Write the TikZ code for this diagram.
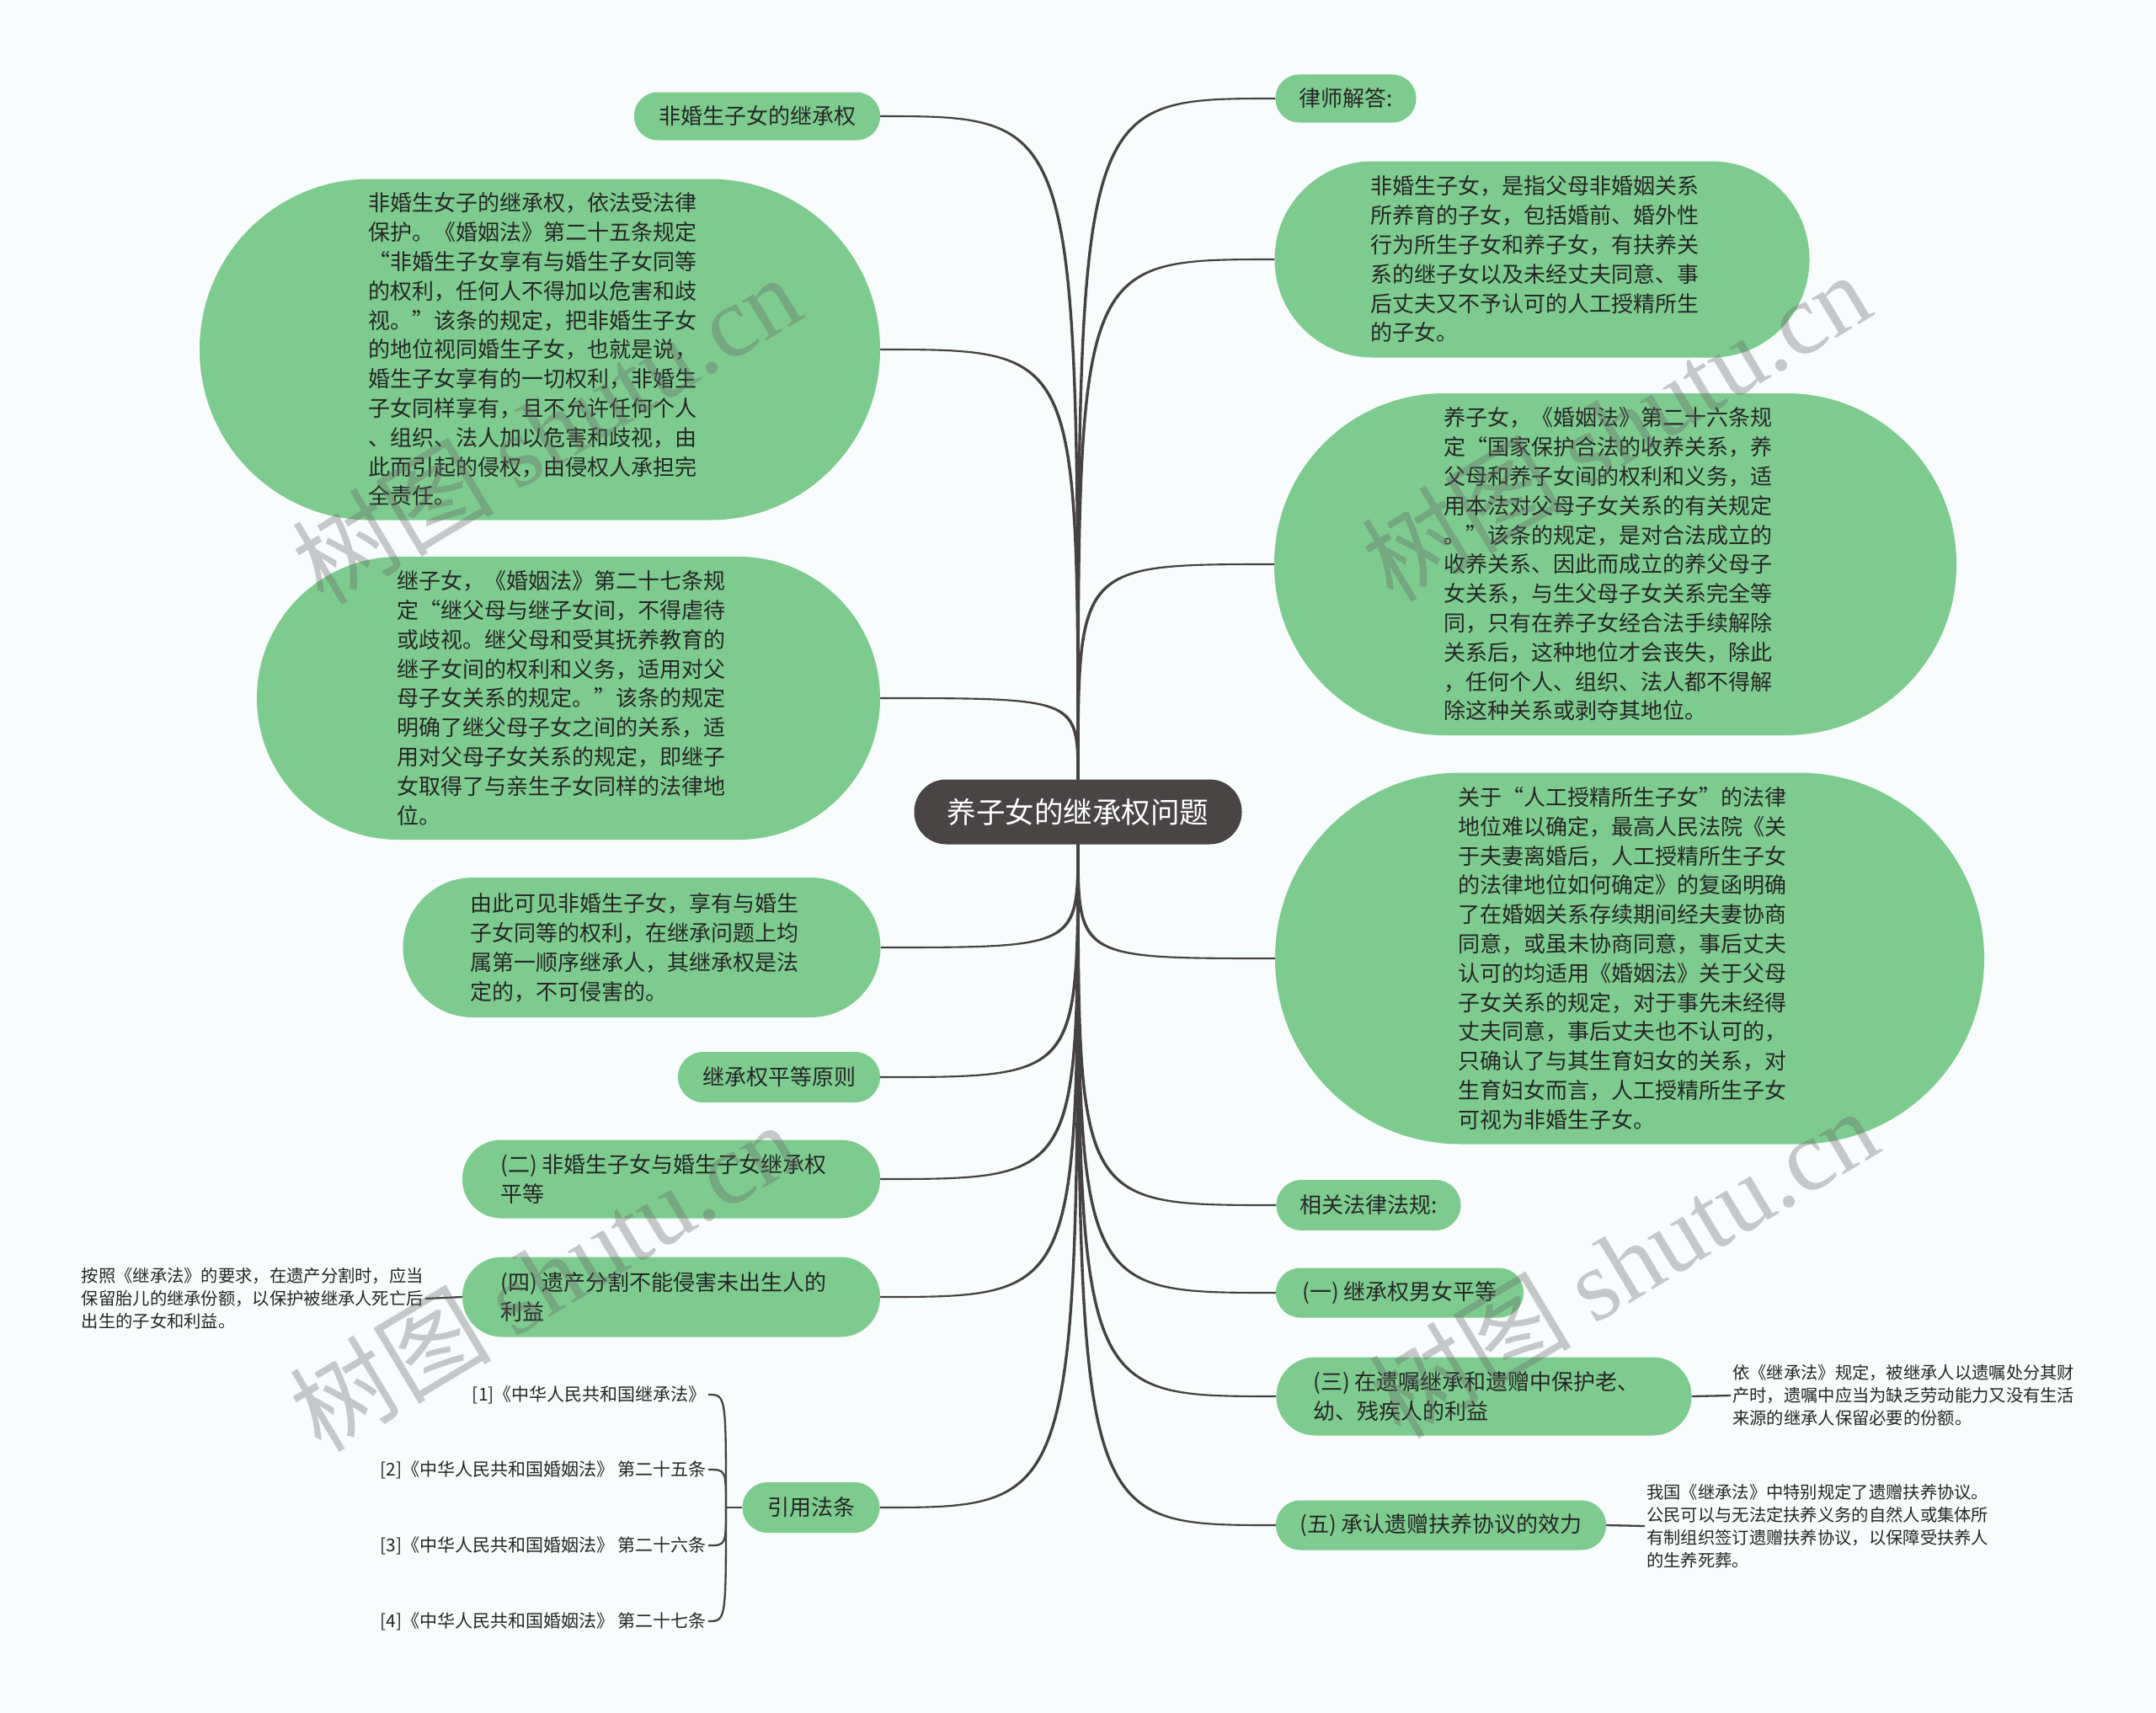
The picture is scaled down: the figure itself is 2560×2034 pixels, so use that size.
\documentclass[tikz,border=0pt]{standalone}
\usepackage{fontspec}
\newfontfamily\cjk{Noto Sans CJK SC}
\newfontfamily\wmserif{Liberation Serif}
\usetikzlibrary{calc}
\definecolor{bgc}{HTML}{F8FCFD}
\definecolor{gfill}{HTML}{7ECB8F}
\definecolor{rootc}{HTML}{4A4545}
\definecolor{linec}{HTML}{474242}
\definecolor{txtc}{HTML}{262626}
\pgfdeclarelayer{back}
\pgfdeclarelayer{lines}
\pgfdeclarelayer{front}
\pgfsetlayers{back,lines,main,front}
\newcommand\fs[2]{\fontsize{#1}{#2}\selectfont}
% text block shifted slightly left and down inside its node
\newcommand\tb[1]{\kern-18pt\raisebox{-3pt}[\height][\depth]{\begin{tabular}{@{}l@{}}#1\end{tabular}}}
% slightly tapered connector from #1 (root anchor) to #2, #3 = orientation sign
\newcommand\conn[3]{%
  \coordinate (k) at (#1 |- #2);
  \fill[linec] ($(#1)+(-1.7,0)$) .. controls ($(k)+(-1.7,{(#3)*1.05})$) .. ($(#2)+(0,{(#3)*1.05})$)
    -- ($(#2)+(0,{-(#3)*1.05})$) .. controls ($(k)+(1.7,{-(#3)*1.05})$) .. ($(#1)+(1.7,0)$) -- cycle;}
\tikzset{
  gn/.style={fill=gfill, text=txtc, font=\cjk\fs{26}{34.8}, inner sep=0pt},
  notetxt/.style={text=txtc, font=\cjk\fs{20.3}{27}, align=left, inner sep=2pt},
  reftxt/.style={text=txtc, font=\cjk\fs{21}{28}, inner sep=2pt},
  thinline/.style={draw=linec, line width=2.3pt},
  wm/.style={text=black!60, text opacity=0.35, rotate=31, inner sep=0pt}
}
\begin{document}
\begin{tikzpicture}[x=1pt,y=-1pt]
\useasboundingbox (0,0) rectangle (2560,2034);
\begin{pgfonlayer}{back}
\fill[bgc] (0,0) rectangle (2560,2034);
\end{pgfonlayer}

% root
\node[fill=rootc, text=white, font=\cjk\fs{34.5}{40}, minimum width=389, minimum height=77, rounded corners=38, inner sep=0pt] (root) at (1280,964) {养子女的继承权问题};

% left side
\node[gn, minimum width=292, minimum height=57, rounded corners=28] (L1) at (899,138) {非婚生子女的继承权};
\node[gn, minimum width=808, minimum height=405, rounded corners=202] (L2) at (641,415) {\tb{非婚生女子的继承权，依法受法律\\保护。《婚姻法》第二十五条规定\\“非婚生子女享有与婚生子女同等\\的权利，任何人不得加以危害和歧\\视。”该条的规定，把非婚生子女\\的地位视同婚生子女，也就是说，\\婚生子女享有的一切权利，非婚生\\子女同样享有，且不允许任何个人\\、组织、法人加以危害和歧视，由\\此而引起的侵权，由侵权人承担完\\全责任。}};
\node[gn, minimum width=740, minimum height=336, rounded corners=168] (L3) at (675,829) {\tb{继子女，《婚姻法》第二十七条规\\定“继父母与继子女间，不得虐待\\或歧视。继父母和受其抚养教育的\\继子女间的权利和义务，适用对父\\母子女关系的规定。”该条的规定\\明确了继父母子女之间的关系，适\\用对父母子女关系的规定，即继子\\女取得了与亲生子女同样的法律地\\位。}};
\node[gn, minimum width=567, minimum height=166, rounded corners=83] (L4) at (762,1125) {\tb{由此可见非婚生子女，享有与婚生\\子女同等的权利，在继承问题上均\\属第一顺序继承人，其继承权是法\\定的，不可侵害的。}};
\node[gn, minimum width=240, minimum height=60, rounded corners=30] (L5) at (925,1279) {继承权平等原则};
\node[gn, minimum width=496, minimum height=93, rounded corners=46] (L6) at (797,1400) {\tb{(二) 非婚生子女与婚生子女继承权\\平等}};
\node[gn, minimum width=496, minimum height=95, rounded corners=47] (L7) at (797,1540) {\tb{(四) 遗产分割不能侵害未出生人的\\利益}};
\node[gn, minimum width=163, minimum height=60, rounded corners=30] (L8) at (963,1790) {引用法条};

\node[notetxt, anchor=east] (n7) at (505,1542) {按照《继承法》的要求，在遗产分割时，应当\\保留胎儿的继承份额，以保护被继承人死亡后\\出生的子女和利益。};

\node[reftxt, anchor=east] (r1) at (841,1656) {[1]《中华人民共和国继承法》};
\node[reftxt, anchor=east] (r2) at (841,1745) {[2]《中华人民共和国婚姻法》 第二十五条};
\node[reftxt, anchor=east] (r3) at (841,1835) {[3]《中华人民共和国婚姻法》 第二十六条};
\node[reftxt, anchor=east] (r4) at (841,1925) {[4]《中华人民共和国婚姻法》 第二十七条};
\coordinate (J) at (862,1790);

% right side
\node[gn, minimum width=167, minimum height=57, rounded corners=28] (R1) at (1598,117) {律师解答:};
\node[gn, minimum width=635, minimum height=233, rounded corners=116] (R2) at (1831,308) {\tb{非婚生子女，是指父母非婚姻关系\\所养育的子女，包括婚前、婚外性\\行为所生子女和养子女，有扶养关\\系的继子女以及未经丈夫同意、事\\后丈夫又不予认可的人工授精所生\\的子女。}};
\node[gn, minimum width=810, minimum height=406, rounded corners=202] (R3) at (1918,670) {\tb{养子女，《婚姻法》第二十六条规\\定“国家保护合法的收养关系，养\\父母和养子女间的权利和义务，适\\用本法对父母子女关系的有关规定\\。”该条的规定，是对合法成立的\\收养关系、因此而成立的养父母子\\女关系，与生父母子女关系完全等\\同，只有在养子女经合法手续解除\\关系后，这种地位才会丧失，除此\\，任何个人、组织、法人都不得解\\除这种关系或剥夺其地位。}};
\node[gn, minimum width=842, minimum height=441, rounded corners=220] (R4) at (1935,1138) {\tb{关于“人工授精所生子女”的法律\\地位难以确定，最高人民法院《关\\于夫妻离婚后，人工授精所生子女\\的法律地位如何确定》的复函明确\\了在婚姻关系存续期间经夫妻协商\\同意，或虽未协商同意，事后丈夫\\认可的均适用《婚姻法》关于父母\\子女关系的规定，对于事先未经得\\丈夫同意，事后丈夫也不认可的，\\只确认了与其生育妇女的关系，对\\生育妇女而言，人工授精所生子女\\可视为非婚生子女。}};
\node[gn, minimum width=219, minimum height=60, rounded corners=30] (R5) at (1625,1431) {相关法律法规:};
\node[gn, minimum width=294, minimum height=59, rounded corners=29] (R6) at (1662,1535) {(一) 继承权男女平等};
\node[gn, minimum width=493, minimum height=93, rounded corners=46] (R7) at (1762,1658) {\tb{(三) 在遗嘱继承和遗赠中保护老、\\幼、残疾人的利益}};
\node[gn, minimum width=392, minimum height=59, rounded corners=29] (R8) at (1711,1811) {(五) 承认遗赠扶养协议的效力};

\node[notetxt, anchor=west] (n3) at (2055,1657) {依《继承法》规定，被继承人以遗嘱处分其财\\产时，遗嘱中应当为缺乏劳动能力又没有生活\\来源的继承人保留必要的份额。};
\node[notetxt, anchor=west] (n5) at (1953,1812) {我国《继承法》中特别规定了遗赠扶养协议。\\公民可以与无法定扶养义务的自然人或集体所\\有制组织签订遗赠扶养协议，以保障受扶养人\\的生养死葬。};

% connectors
\begin{pgfonlayer}{lines}
\conn{root.north}{L1.east}{1}
\conn{root.north}{L2.east}{1}
\conn{root.north}{L3.east}{1}
\conn{root.south}{L4.east}{-1}
\conn{root.south}{L5.east}{-1}
\conn{root.south}{L6.east}{-1}
\conn{root.south}{L7.east}{-1}
\conn{root.south}{L8.east}{-1}
\conn{root.north}{R1.west}{-1}
\conn{root.north}{R2.west}{-1}
\conn{root.north}{R3.west}{-1}
\conn{root.south}{R4.west}{1}
\conn{root.south}{R5.west}{1}
\conn{root.south}{R6.west}{1}
\conn{root.south}{R7.west}{1}
\conn{root.south}{R8.west}{1}
\draw[thinline] (L7.west) -- (n7.east);
\draw[thinline] (R7.east) -- (n3.west);
\draw[thinline] (R8.east) -- (n5.west);
\draw[thinline] (L8.west) -- (J);
\draw[thinline] (J) .. controls (J |- r1.east) .. (r1.east);
\draw[thinline] (J) .. controls (J |- r2.east) .. (r2.east);
\draw[thinline] (J) .. controls (J |- r3.east) .. (r3.east);
\draw[thinline] (J) .. controls (J |- r4.east) .. (r4.east);
\end{pgfonlayer}

% watermarks
\begin{pgfonlayer}{front}
\node[wm] (w1) at (648,509) {\cjk\fs{120}{120}树图 \wmserif shutu.cn};
\node[wm] (w2) at (1918,506) {\cjk\fs{120}{120}树图 \wmserif shutu.cn};
\node[wm] (w3) at (645,1515) {\cjk\fs{120}{120}树图 \wmserif shutu.cn};
\node[wm] (w4) at (1927,1499) {\cjk\fs{120}{120}树图 \wmserif shutu.cn};
\end{pgfonlayer}
\end{tikzpicture}
\end{document}
